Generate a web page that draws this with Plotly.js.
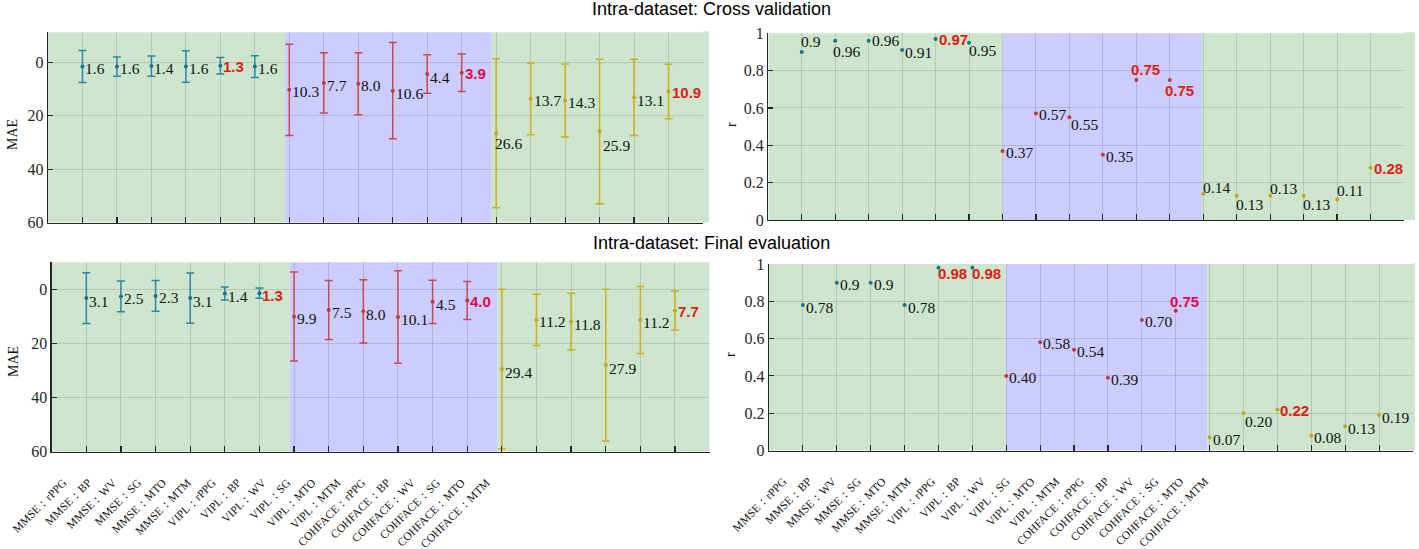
<!DOCTYPE html>
<html><head><meta charset="utf-8">
<script src="https://cdn.plot.ly/plotly-3.0.1.min.js"></script>
<style>html,body{margin:0;padding:0;background:#fff}#chart{width:1419px;height:549px}</style>
</head><body><div id="chart"></div>
<script>
// ---------------- data ----------------
const categories = ["MMSE：rPPG","MMSE：BP","MMSE：WV","MMSE：SG","MMSE：MTO","MMSE：MTM",
  "VIPL：rPPG","VIPL：BP","VIPL：WV","VIPL：SG","VIPL：MTO","VIPL：MTM",
  "COHFACE：rPPG","COHFACE：BP","COHFACE：WV","COHFACE：SG","COHFACE：MTO","COHFACE：MTM"];
const datasetNames = ["MMSE","VIPL","COHFACE"];
const datasetSize = [6,6,6];

const maeCV    = [1.6,1.6,1.4,1.6,1.3,1.6, 10.3,7.7,8.0,10.6,4.4,3.9, 26.6,13.7,14.3,25.9,13.1,10.9];
const maeCVErr = [6.0,3.6,3.8,5.9,3.1,4.1, 17.1,11.3,11.6,18.0,7.2,7.0, 27.9,13.4,13.7,27.1,14.3,10.2];
const rCV      = [0.90,0.96,0.96,0.91,0.97,0.95, 0.37,0.57,0.55,0.35,0.75,0.75, 0.14,0.13,0.13,0.13,0.11,0.28];
const rCVText  = ["0.9","0.96","0.96","0.91","0.97","0.95","0.37","0.57","0.55","0.35","0.75","0.75","0.14","0.13","0.13","0.13","0.11","0.28"];

const maeFE    = [3.1,2.5,2.3,3.1,1.4,1.3, 9.9,7.5,8.0,10.1,4.5,4.0, 29.4,11.2,11.8,27.9,11.2,7.7];
const maeFEErr = [9.4,5.7,5.7,9.3,2.4,1.9, 16.5,10.9,11.7,17.1,8.0,7.0, 29.6,9.5,10.5,28.1,12.4,7.2];
const rFE      = [0.78,0.90,0.90,0.78,0.98,0.98, 0.40,0.58,0.54,0.39,0.70,0.75, 0.07,0.20,0.22,0.08,0.13,0.19];
const rFEText  = ["0.78","0.9","0.9","0.78","0.98","0.98","0.40","0.58","0.54","0.39","0.70","0.75","0.07","0.20","0.22","0.08","0.13","0.19"];

// best-value highlighting (0 none, 1 red, 2 crimson)
const bestMaeCV = [0,0,0,0,1,0, 0,0,0,0,0,2, 0,0,0,0,0,1];
const bestRCV   = [0,0,0,0,1,0, 0,0,0,0,1,1, 0,0,0,0,0,1];
const bestMaeFE = [0,0,0,0,0,1, 0,0,0,0,0,2, 0,0,0,0,0,1];
const bestRFE   = [0,0,0,0,1,1, 0,0,0,0,0,2, 0,0,1,0,0,0];

const panelTitles = ["Intra-dataset: Cross validation","Intra-dataset: Final evaluation"];
const yTitles = ["MAE","r"];

// ---------------- styles ----------------
const W = 1419, H = 549;
const groupColors = ["#2a88a8","#c84a4e","#cfad22"];
const dotColors   = ["#137592","#c0393e","#c9a512"];
const hlColors = [null,"#dd1e16","#dc0a46"];
const green = "rgb(204,229,204)", blue = "rgb(204,204,255)";
const serif = "Liberation Serif, Times New Roman, serif";
const sans = "Liberation Sans, Arial, sans-serif";

// label offsets (px)
const dyMaeCV = [-2,-2,-2,-2,-1,-2, -2,-3,-2,-3,-3,-1, -10,-2,-2,-14,-3,-1];
const dxMaeCV = [1,1,1,1,1,1, 1,1,1,1,1,1, -3,1,1,1,1,1];
const dyRCV = [10,-11,0,-2,-1,-8, -2,-1,-7,-2,10,-11, 6,-9,7,-9,9,-1];
const dxRCV = [-3,-4,1,1,1,-2, 1,1,0,1,-7,-7, -2,-3,-2,-3,-2,1];
const dyMaeFE = [-3,-2,-2,-3,-3,-2, -2,-3,-3,-3,-3,-1, -3,-2,-3,-3,-3,-1];
const dxMaeFE = [1,1,1,1,1,1, 1,1,1,1,1,1, 1,1,1,1,1,1];
const dyRFE = [-2,-2,-2,-2,-6,-6, -2,-1,-2,-2,-2,9, -2,-8,-1,-2,-2,-2];
const dxRFE = [1,1,1,1,-2,-2, 1,1,1,1,1,-8, 1,-1,1,1,1,1];

const xIdx = categories.map((c,i)=>i+1);

const panels = [
  {ax:"", px:[48,703], py:[32.3,222.5], yr:[60,-11.25], yt:[0,20,40,60], v:maeCV, e:maeCVErr,
   txt:maeCV.map(v=>v.toFixed(1)), best:bestMaeCV, dx:dxMaeCV, dy:dyMaeCV, bands:[6.87,12.87], ext:709, labels:false, ytitle:0, ytpos:[12,135]},
  {ax:"2", px:[768.3,1404], py:[33.3,220], yr:[0,1], yt:[0,0.2,0.4,0.6,0.8,1], v:rCV, e:null,
   txt:rCVText, best:bestRCV, dx:dxRCV, dy:dyRCV, bands:[7.0,12.96], ext:1415, labels:false, ytitle:1, ytpos:[731,125]},
  {ax:"3", px:[51.7,709.6], py:[262.3,451.7], yr:[60,-10.15], yt:[0,20,40,60], v:maeFE, e:maeFEErr,
   txt:maeFE.map(v=>v.toFixed(1)), best:bestMaeFE, dx:dxMaeFE, dy:dyMaeFE, bands:[6.87,12.87], ext:709.6, labels:true, ytitle:0, ytpos:[13,362]},
  {ax:"4", px:[769,1413], py:[264,450.5], yr:[0,1], yt:[0,0.2,0.4,0.6,0.8,1], v:rFE, e:null,
   txt:rFEText, best:bestRFE, dx:dxRFE, dy:dyRFE, bands:[6.98,12.93], ext:1415, labels:true, ytitle:1, ytpos:[730,355]}
];

const traces = [], shapes = [], annotations = [];
const layout = {
  width:W, height:H, margin:{l:0,r:0,t:0,b:0}, showlegend:false,
  paper_bgcolor:"#ffffff", plot_bgcolor:"rgba(0,0,0,0)"
};

panels.forEach((p,pi)=>{
  const xa = "x"+p.ax, ya = "y"+p.ax;
  const xdom = [p.px[0]/W, p.px[1]/W];
  const ydom = [1-p.py[1]/H, 1-p.py[0]/H];
  layout["xaxis"+p.ax] = {
    domain:xdom, anchor:ya, range:[0,19], tickmode:"array", tickvals:xIdx,
    showticklabels:false, ticks:"inside", ticklen:6, tickwidth:1.2, tickcolor:"#262626",
    showline:true, linecolor:"#262626", linewidth:1.3, zeroline:false,
    showgrid:true, gridcolor:"rgba(0,0,0,0.12)", gridwidth:1
  };
  layout["yaxis"+p.ax] = {
    domain:ydom, anchor:xa, range:p.yr, tickmode:"array", tickvals:p.yt,
    ticks:"inside", ticklen:5, tickwidth:1.2, tickcolor:"#262626",
    showline:true, linecolor:"#262626", linewidth:1.3, zeroline:false,
    showgrid:true, gridcolor:"rgba(0,0,0,0.12)", gridwidth:1,
    tickfont:{family:serif, size:16, color:"#262626"}
  };
  // background bands
  const edges = [0, p.bands[0], p.bands[1], 19];
  [green, blue, green].forEach((c,k)=>{
    shapes.push({type:"rect", xref:xa, yref:ya+" domain", x0:edges[k], x1:edges[k+1], y0:0, y1:1,
      fillcolor:c, line:{width:0}, layer:"below"});
  });
  if (p.ext > p.px[1]) {
    shapes.push({type:"rect", xref:"paper", yref:"paper", x0:p.px[1]/W, x1:p.ext/W,
      y0:ydom[0], y1:1-(p.py[0]-1)/H, fillcolor:green, line:{width:0}, layer:"below"});
  }
  // traces per dataset
  let start = 0;
  datasetNames.forEach((dn,g)=>{
    const n = datasetSize[g];
    const idx = xIdx.slice(start, start+n);
    const t = {
      type:"scatter", mode:"markers", name:dn, xaxis:xa, yaxis:ya,
      x:idx, y:p.v.slice(start,start+n),
      marker:{size:4, color:dotColors[g]}, hoverinfo:"skip", cliponaxis:false
    };
    if (p.e) t.error_y = {type:"data", array:p.e.slice(start,start+n), symmetric:true,
      color:groupColors[g], thickness:1.5, width:4};
    traces.push(t);
    start += n;
  });
  // value labels
  p.v.forEach((v,i)=>{
    const b = p.best[i];
    annotations.push({
      xref:xa, yref:ya, x:xIdx[i], y:v, text:p.txt[i], showarrow:false,
      xanchor:"left", yanchor:"middle", xshift:p.dx[i], yshift:p.dy[i],
      font: b ? {family:sans, size:15, color:hlColors[b], weight:"bold"} : {family:serif, size:15.5, color:"#111"}
    });
  });
  // y title
  annotations.push({xref:"paper", yref:"paper", x:p.ytpos[0]/W, y:1-p.ytpos[1]/H, text:yTitles[p.ytitle],
    showarrow:false, textangle:-90, xanchor:"center", yanchor:"middle",
    font:{family:serif, size:14, color:"#111"}});
  // category labels axis
  if (p.labels) {
    const id = pi===2 ? "5" : "6";
    const r = pi===2 ? [0.534, 26.96] : [0.423, 26.39];
    layout["xaxis"+id] = {
      domain:xdom, anchor:ya, overlaying:xa, side:"bottom", range:r,
      tickmode:"array", tickvals:xIdx, ticktext:categories, tickangle:-45,
      ticks:"", showline:false, showgrid:false, zeroline:false, ticklabelstandoff:21,
      tickfont:{family:serif, size:11.5, color:"#111"}
    };
    traces.push({type:"scatter", mode:"markers", x:[null], y:[null], xaxis:"x"+id, yaxis:ya,
      showlegend:false, hoverinfo:"skip"});
  }
});

// panel titles
annotations.push({xref:"paper", yref:"paper", x:711/W, y:1-9.5/H, text:panelTitles[0], showarrow:false,
  xanchor:"center", yanchor:"middle", font:{family:sans, size:18, color:"#000"}});
annotations.push({xref:"paper", yref:"paper", x:711/W, y:1-243/H, text:panelTitles[1], showarrow:false,
  xanchor:"center", yanchor:"middle", font:{family:sans, size:18, color:"#000"}});

layout.shapes = shapes;
layout.annotations = annotations;
Plotly.newPlot("chart", traces, layout, {staticPlot:true, displayModeBar:false});
</script>
</body></html>
